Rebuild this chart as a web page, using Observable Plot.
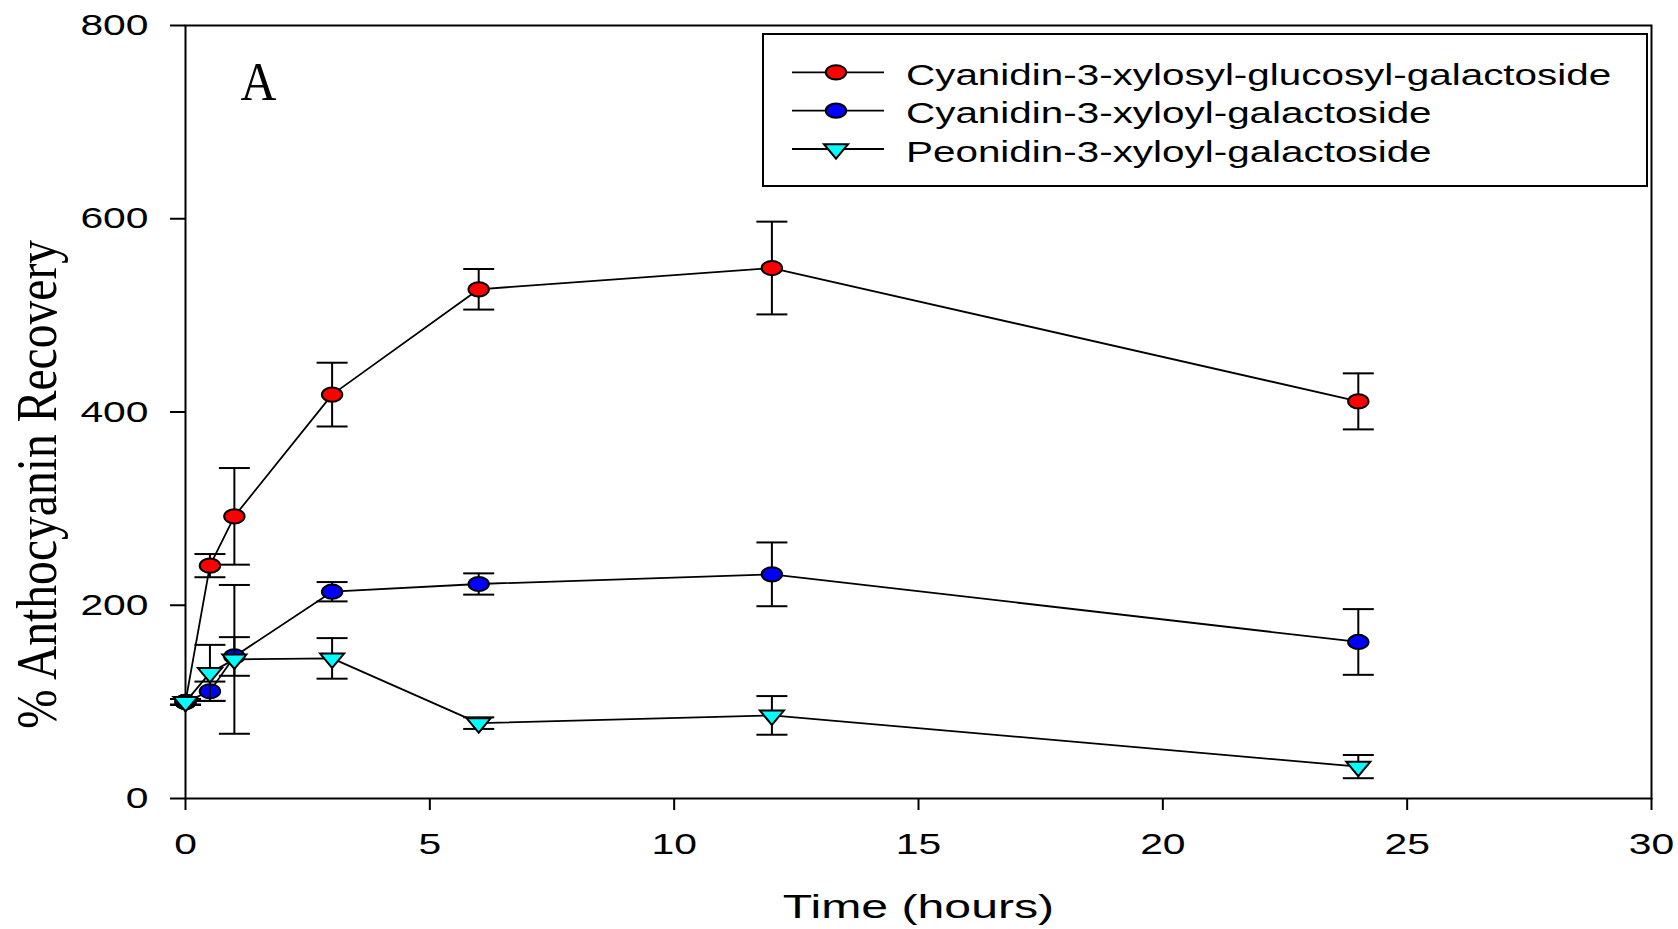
<!DOCTYPE html>
<html>
<head>
<meta charset="utf-8">
<script src="https://cdn.jsdelivr.net/npm/d3@7"></script>
<script src="https://cdn.jsdelivr.net/npm/@observablehq/plot@0.6"></script>
<style>
  html, body { margin: 0; padding: 0; background: #fff; }
  #chart svg { display: block; }
</style>
</head>
<body>
<div id="chart"></div>
<script>
// Sampling times (hours)
const hours = [0, 0.5, 1, 3, 6, 12, 24];

// Series names and symbol colours
const seriesNames = [
  "Cyanidin-3-xylosyl-glucosyl-galactoside",
  "Cyanidin-3-xyloyl-galactoside",
  "Peonidin-3-xyloyl-galactoside"
];
const seriesColors = ["#ff0000", "#0000ff", "#00ffff"];

// % recovery (mean) and error (±) for each anthocyanin
const cyXylGluGal    = [100, 241, 292, 418, 527, 549, 411];
const cyXylGluGalErr = [3, 12, 50, 33, 21, 48, 29];
const cyXylGal       = [100, 111, 147, 214, 222, 232, 162];
const cyXylGalErr    = [3, 10, 20, 10, 11, 33, 34];
const peoXylGal      = [100, 130, 144, 145, 78, 86, 33];
const peoXylGalErr   = [3, 29, 77, 21, 6, 20, 12];

// Axis ticks and titles
const xTicks = [0, 5, 10, 15, 20, 25, 30];
const yTicks = [0, 200, 400, 600, 800];
const xTitle = "Time (hours)";
const yTitle = "% Anthocyanin Recovery";
const panelTitle = "A";

const seriesValues = [cyXylGluGal, cyXylGal, peoXylGal];
const seriesErrors = [cyXylGluGalErr, cyXylGalErr, peoXylGalErr];

const table = seriesNames.flatMap((name, s) =>
  hours.map((t, i) => ({name, s, t, v: seriesValues[s][i], e: seriesErrors[s][i]}))
);

// Marker shapes: slightly wide ellipse, down-pointing triangle, error-bar cap
const ellipse = {
  draw(ctx) {
    const rx = 10.2, ry = 7.1, k = 0.5523;
    ctx.moveTo(rx, 0);
    ctx.bezierCurveTo(rx, ry * k, rx * k, ry, 0, ry);
    ctx.bezierCurveTo(-rx * k, ry, -rx, ry * k, -rx, 0);
    ctx.bezierCurveTo(-rx, -ry * k, -rx * k, -ry, 0, -ry);
    ctx.bezierCurveTo(rx * k, -ry, rx, -ry * k, rx, 0);
    ctx.closePath();
  }
};
const triangleDown = {
  draw(ctx) {
    const hw = 12, h = 14.4;
    ctx.moveTo(-hw, -h / 3);
    ctx.lineTo(hw, -h / 3);
    ctx.lineTo(0, 2 * h / 3);
    ctx.closePath();
  }
};
const cap = {
  draw(ctx) {
    ctx.moveTo(-15.5, 0);
    ctx.lineTo(15.5, 0);
  }
};
const seriesSymbols = [ellipse, ellipse, triangleDown];

const SANS = "'Liberation Sans', Arial, Helvetica, sans-serif";
const SERIF = "'Liberation Serif', 'Times New Roman', serif";

const seriesMarks = seriesNames.flatMap((name, s) => {
  const rows = table.filter(d => d.s === s);
  return [
    Plot.ruleX(rows, {x: "t", y1: d => d.v - d.e, y2: d => d.v + d.e, stroke: "black", strokeWidth: 2}),
    Plot.dot(rows, {x: "t", y: d => d.v - d.e, symbol: cap, fill: "none", stroke: "black", strokeWidth: 2}),
    Plot.dot(rows, {x: "t", y: d => d.v + d.e, symbol: cap, fill: "none", stroke: "black", strokeWidth: 2}),
    Plot.line(rows, {x: "t", y: "v", stroke: "black", strokeWidth: 1.8}),
    Plot.dot(rows, {x: "t", y: "v", symbol: seriesSymbols[s], fill: seriesColors[s], stroke: "black", strokeWidth: 2})
  ];
});

const svg = Plot.plot({
  width: 1678,
  height: 929,
  marginLeft: 185,
  marginRight: 27,
  marginTop: 25,
  marginBottom: 131,
  style: {background: "white", fontFamily: SANS},
  x: {domain: [0, 30]},
  y: {domain: [0, 800]},
  marks: [
    Plot.axisY({ticks: yTicks, tickSize: 15, tickPadding: 22, fontSize: 30, strokeWidth: 2, label: null, fill: "black"}),
    Plot.axisX({ticks: xTicks, tickSize: 12, tickPadding: 22, fontSize: 30, strokeWidth: 2, label: null, fill: "black"}),
    Plot.frame({stroke: "black", strokeWidth: 2}),
    ...seriesMarks,
    Plot.text([xTitle], {text: d => d, frameAnchor: "bottom", textAnchor: "middle", dy: 119, lineAnchor: "bottom", fontSize: 33, fontFamily: SANS, fill: "black"}),
    Plot.text([yTitle], {text: d => d, frameAnchor: "left", textAnchor: "middle", rotate: -90, dx: -130, dy: 72.5, lineAnchor: "bottom", fontSize: 56, fontFamily: SERIF, fill: "black"}),
    Plot.text([panelTitle], {text: d => d, frameAnchor: "top-left", textAnchor: "start", dx: 55, dy: 74, lineAnchor: "bottom", fontSize: 54, fontFamily: SERIF, fill: "black"})
  ]
});

document.getElementById("chart").appendChild(svg);

// Legend box in the upper right of the plotting frame
const frameRight = 1678 - 27;
const frameTop = 25;
const legend = d3.select(svg).append("g").attr("aria-label", "legend");
const boxX = frameRight - 888, boxY = frameTop + 9, boxW = 884, boxH = 152;
legend.append("rect")
  .attr("x", boxX).attr("y", boxY).attr("width", boxW).attr("height", boxH)
  .attr("fill", "white").attr("stroke", "black").attr("stroke-width", 2);
seriesNames.forEach((name, i) => {
  const cy = boxY + 38.3 + i * 38.35;
  legend.append("line")
    .attr("x1", boxX + 29).attr("x2", boxX + 121)
    .attr("y1", cy).attr("y2", cy)
    .attr("stroke", "black").attr("stroke-width", 1.8);
  legend.append("path")
    .attr("d", d3.symbol(seriesSymbols[i])())
    .attr("transform", `translate(${boxX + 73},${cy})`)
    .attr("fill", seriesColors[i]).attr("stroke", "black").attr("stroke-width", 2);
  legend.append("text")
    .attr("x", boxX + 143).attr("y", cy + 12.7)
    .attr("text-anchor", "start")
    .attr("font-family", SANS).attr("font-size", 30).attr("fill", "black")
    .text(name);
});

// Widen (or narrow) glyphs along the reading direction, per text
function widthFactor(label) {
  if (/^\d+$/.test(label)) return 1.36;      // tick labels
  if (label === xTitle) return 1.46;
  if (label === yTitle) return 0.85;
  if (label === panelTitle) return 0.92;
  if (seriesNames.includes(label)) return 1.347;
  return 1;
}
d3.select(svg).selectAll("text").each(function () {
  const f = widthFactor(this.textContent.trim());
  if (f === 1) return;
  const w = this.getComputedTextLength();
  this.setAttribute("textLength", (w * f).toFixed(1));
  this.setAttribute("lengthAdjust", "spacingAndGlyphs");
});
</script>
</body>
</html>
